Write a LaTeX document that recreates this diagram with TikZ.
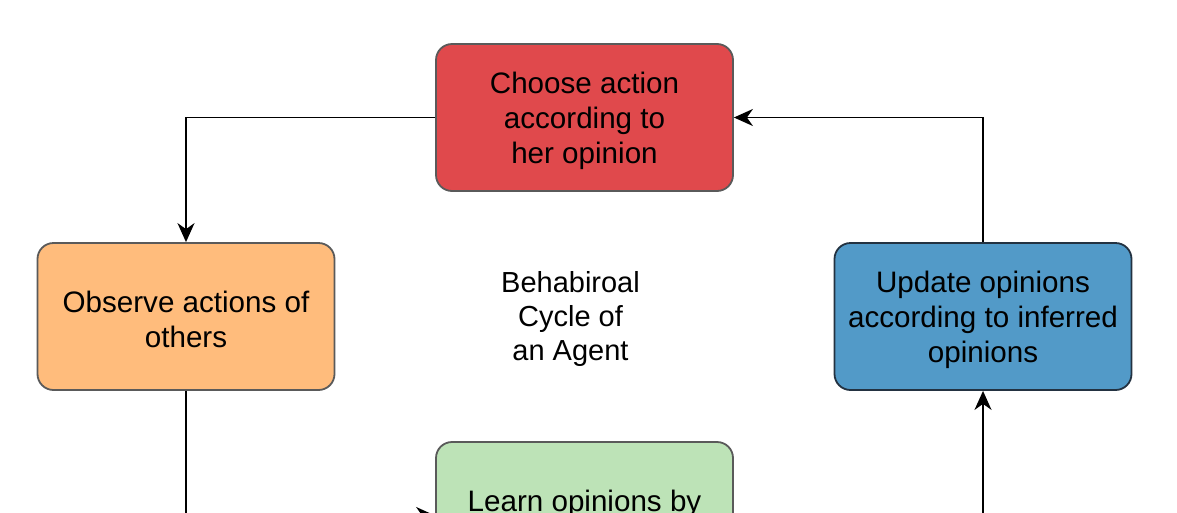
\documentclass[tikz,border=0pt]{standalone}
\usepackage{fontspec}
\setmainfont{Liberation Sans}
\usetikzlibrary{arrows.meta}
\definecolor{redfill}{RGB}{224,73,76}
\definecolor{orangefill}{RGB}{255,188,124}
\definecolor{bluefill}{RGB}{82,154,200}
\definecolor{greenfill}{RGB}{189,227,183}
\definecolor{grayline}{RGB}{90,90,90}
\definecolor{blueline}{RGB}{35,50,65}
\tikzset{
  box/.style={draw=grayline, line width=1.8pt, rounded corners=16pt,
    minimum width=297pt, minimum height=147pt, inner sep=0pt},
  boxtext/.style={align=center, inner sep=0pt, yshift=-3pt,
    font=\fontsize{29.6}{35}\selectfont},
  conn/.style={line width=1.8pt, -{Stealth[length=19pt,width=17pt,inset=6pt]}},
  lbl/.style={align=center, yshift=-3pt, font=\fontsize{29}{34}\selectfont}
}
\begin{document}
\begin{tikzpicture}[x=1pt,y=-1pt]
\clip (0,0) rectangle (1177,512);
\fill[white] (0,0) rectangle (1177,512);
\node[box, fill=redfill] (choose) at (584.5,117.5) {};
\node[boxtext] (choosetext) at (choose.center) {Choose action\\according to\\her opinion};
\node[box, fill=orangefill] (observe) at (186,316.5) {};
\node[boxtext] (observetext) at (observe.center) {Observe actions of\\others};
\node[box, fill=bluefill, draw=blueline] (update) at (983,316.5) {};
\node[boxtext] (updatetext) at (update.center) {Update opinions\\according to inferred\\opinions};
\node[box, fill=greenfill] (learn) at (584.5,515.5) {};
\node[boxtext] (learntext) at (learn.center) {Learn opinions by\\inference};
\node[lbl] (cycle) at (570.5,316) {Behabiroal\\Cycle of\\an Agent};
\draw[conn] (choose.west) -| (observe.north);
\draw[conn] (observe.south) |- (learn.west);
\draw[conn] (learn.east) -| (update.south);
\draw[conn] (update.north) |- (choose.east);
\end{tikzpicture}
\end{document}
